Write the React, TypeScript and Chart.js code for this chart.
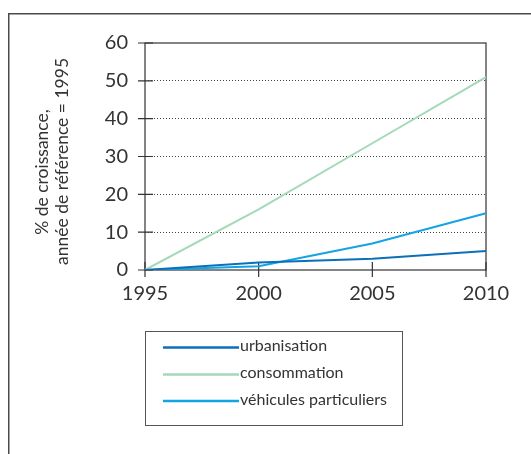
import { useEffect, useRef } from "react";
import { Chart, registerables } from "chart.js";

Chart.register(...registerables);

const years = ["1995", "2000", "2005", "2010"];
const urbanisation = [0, 2, 3, 5];
const consommation = [0, 16, 33.5, 51];
const vehicules = [0, 1, 7, 15];
const yTicks = [0, 10, 20, 30, 40, 50, 60];
const seriesNames = ["urbanisation", "consommation", "véhicules particuliers"];
const seriesColors = ["#0b6fba", "#a3d9b8", "#14a3e3"];
const axisTitle = ["% de croissance,", "année de référence = 1995"];

const FONT = "Lato, 'Noto Sans', sans-serif";

const deco = {
  id: "deco",
  beforeDraw(chart: any) {
    const ctx = chart.ctx;
    ctx.save();
    ctx.fillStyle = "#fff";
    ctx.fillRect(0, 0, chart.width, chart.height);
    ctx.strokeStyle = "#4a4a4a";
    ctx.lineWidth = 1.5;
    ctx.beginPath();
    ctx.moveTo(8.75, chart.height);
    ctx.lineTo(8.75, 13.75);
    ctx.lineTo(chart.width, 13.75);
    ctx.stroke();
    ctx.restore();
  },
  beforeDatasetsDraw(chart: any) {
    const { ctx, chartArea: a, scales } = chart;
    ctx.save();
    ctx.strokeStyle = "#333";
    ctx.lineWidth = 1.2;
    ctx.strokeRect(a.left, a.top, a.right - a.left, a.bottom - a.top);
    ctx.beginPath();
    for (const v of yTicks) {
      const y = scales.y.getPixelForValue(v);
      ctx.moveTo(a.left - 7, y);
      ctx.lineTo(a.left + 8, y);
    }
    years.forEach((_, i) => {
      const x = scales.x.getPixelForValue(i);
      ctx.moveTo(x, a.bottom - 8);
      ctx.lineTo(x, a.bottom + 7);
    });
    ctx.stroke();

    // axis title
    ctx.fillStyle = "#333";
    ctx.font = `17.5px ${FONT}`;
    ctx.textAlign = "center";
    ctx.textBaseline = "middle";
    const pos = [
      [42.5, 172],
      [62.5, 161.5],
    ];
    axisTitle.forEach((t, i) => {
      ctx.save();
      ctx.translate(pos[i][0], pos[i][1]);
      ctx.rotate(-Math.PI / 2);
      ctx.fillText(t, 0, 0);
      ctx.restore();
    });
    ctx.restore();
  },
  afterDraw(chart: any) {
    const ctx = chart.ctx;
    ctx.save();
    ctx.strokeStyle = "#555";
    ctx.lineWidth = 1;
    ctx.strokeRect(145.5, 331.5, 257, 94);
    const rows = [347.5, 374.5, 401];
    chart.data.datasets.forEach((ds: any, i: number) => {
      ctx.strokeStyle = ds.borderColor;
      ctx.lineWidth = 2.5;
      ctx.beginPath();
      ctx.moveTo(163, rows[i]);
      ctx.lineTo(239, rows[i]);
      ctx.stroke();
      ctx.fillStyle = "#333";
      ctx.font = `16px ${FONT}`;
      ctx.textAlign = "left";
      ctx.textBaseline = "middle";
      ctx.fillText(ds.label, 240, rows[i] - 1.5);
    });
    ctx.restore();
  },
};

export default function App() {
  const ref = useRef<HTMLCanvasElement | null>(null);
  useEffect(() => {
    if (!ref.current) return;
    const seriesData = [urbanisation, consommation, vehicules];
    const chart = new Chart(ref.current, {
      type: "line",
      data: {
        labels: years,
        datasets: seriesNames.map((name, i) => ({
          label: name,
          data: seriesData[i],
          borderColor: seriesColors[i],
          backgroundColor: seriesColors[i],
          borderWidth: 2,
          pointRadius: 0,
          tension: 0,
          fill: false,
        })),
      },
      options: {
        animation: false,
        responsive: false,
        devicePixelRatio: 1,
        layout: { padding: { top: 43, right: 45, bottom: 154, left: 0 } },
        plugins: { legend: { display: false }, tooltip: { enabled: false } },
        scales: {
          x: {
            type: "category",
            offset: false,
            grid: { display: false, drawTicks: false },
            border: { display: false },
            ticks: {
              color: "#333",
              font: { family: FONT, size: 20 },
              padding: 12,
              maxRotation: 0,
              autoSkip: false,
            },
            afterFit: (s: any) => {
              s.height = 30;
            },
          },
          y: {
            min: 0,
            max: 60,
            grid: {
              drawTicks: false,
              color: (c: any) =>
                c.tick && (c.tick.value === 0 || c.tick.value === 60) ? "rgba(0,0,0,0)" : "#444",
              lineWidth: 1,
            },
            border: { display: false, dash: [1, 2] },
            ticks: {
              stepSize: 10,
              color: "#333",
              font: { family: FONT, size: 20 },
              padding: 17,
            },
            afterFit: (s: any) => {
              s.width = 145;
            },
          },
        },
      },
      plugins: [deco],
    } as any);
    (chart.options.scales as any).y.grid.borderDash = [1, 2];
    chart.update();
    return () => chart.destroy();
  }, []);
  return (
    <div style={{ position: "absolute", left: 0, top: 0, width: 531, height: 454 }}>
      <canvas ref={ref} width={531} height={454} style={{ width: 531, height: 454, display: "block" }} />
    </div>
  );
}
